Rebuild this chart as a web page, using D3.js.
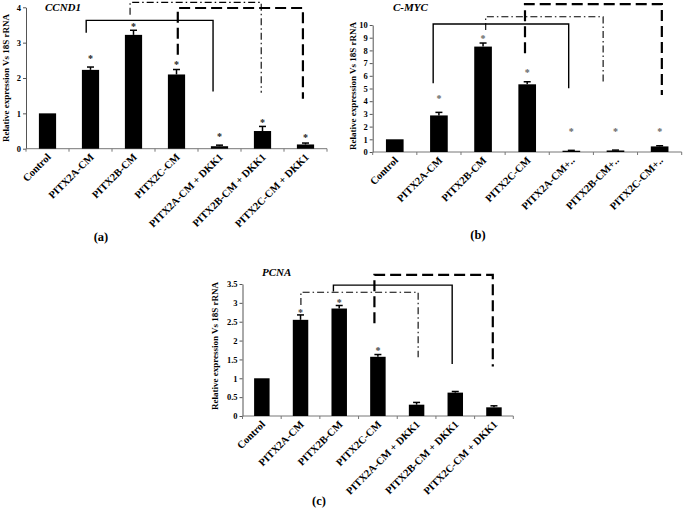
<!DOCTYPE html>
<html><head><meta charset="utf-8">
<script src="https://cdn.jsdelivr.net/npm/d3@7/dist/d3.min.js"></script>
<style>
body{margin:0;background:#fff;}
svg{display:block;font-family:"Liberation Serif","Times New Roman",serif;}
</style></head>
<body><svg id="chart" width="683" height="508"></svg>
<script>
// ---------- DATA ----------
const categories = ["Control","PITX2A-CM","PITX2B-CM","PITX2C-CM","PITX2A-CM + DKK1","PITX2B-CM + DKK1","PITX2C-CM + DKK1"];
const categoriesMyc = ["Control","PITX2A-CM","PITX2B-CM","PITX2C-CM","PITX2A-CM+..","PITX2B-CM+..","PITX2C-CM+.."];

const ccnd1Values = [1.0, 2.23, 3.22, 2.1, 0.07, 0.5, 0.12];
const ccnd1Errors = [0, 0.08, 0.13, 0.14, 0.03, 0.13, 0.04];
const ccnd1Stars  = [null, 2.59, 3.51, 2.43, 0.39, 0.79, 0.37];
const ccnd1Ticks  = [0, 1, 2, 3, 4];

const mycValues = [1.0, 2.88, 8.3, 5.33, 0.1, 0.12, 0.44];
const mycErrors = [0, 0.24, 0.28, 0.2, 0.03, 0.03, 0.05];
const mycStars  = [null, 4.33, 9.08, 6.38, 1.73, 1.73, 1.73];
const mycTicks  = [0,1,2,3,4,5,6,7,8,9,10];

const pcnaValues = [1.0, 2.55, 2.85, 1.57, 0.3, 0.62, 0.23];
const pcnaErrors = [0, 0.13, 0.08, 0.06, 0.06, 0.03, 0.04];
const pcnaStars  = [null, 2.79, 3.05, 1.78, null, null, null];
const pcnaTicks  = [0, 0.5, 1, 1.5, 2, 2.5, 3, 3.5];
const pcnaTickLabels = ["0","0.5","1","1.5","2","2.5","3","3.5"];

// brackets: [fromCategoryPos, toCategoryPos, topValue, leftEndValue, rightEndValue, kind]
const ccnd1Brackets = [
  [0.9, 3.85, 3.63, 3.28, 1.62, "solid"],
  [1.92, 4.97, 4.14, 3.79, 1.58, "dashdot"],
  [3.03, 5.94, 3.98, 2.66, 1.41, "dashed"]
];
const mycBrackets = [
  [0.87, 3.94, 10.08, 5.41, 5.02, "solid"],
  [2.06, 4.72, 10.65, 9.6, 5.54, "dashdot"],
  [2.95, 6.05, 11.65, 7.77, 4.49, "dashed"]
];
const pcnaBrackets = [
  [1.01, 4.04, 3.28, 2.94, 1.56, "dashdot"],
  [1.85, 4.92, 3.47, 3.30, 1.38, "solid"],
  [2.91, 5.97, 3.74, 2.46, 1.31, "dashed"]
];

// ---------- STYLES ----------
const lineStyles = {
  solid:   {w: 1.4, dash: null},
  dashdot: {w: 1.1, dash: "7,3,1.5,3"},
  dashed:  {w: 2.2, dash: "11,5"}
};

const svg = d3.select("#chart");

function drawPanel(cfg) {
  const g = svg.append("g");
  const x = d3.scaleBand().domain(d3.range(cfg.cats.length)).range([cfg.x0, cfg.x1]).paddingInner(0).paddingOuter(0);
  const y = d3.scaleLinear().domain([0, cfg.yMax]).range([cfg.y0, cfg.yTop]);
  const bw = x.bandwidth();
  const cx = i => cfg.x0 + bw * (i + 0.5);

  // y axis
  const yAxis = d3.axisLeft(y).tickValues(cfg.ticks).tickSize(3).tickSizeOuter(0)
    .tickFormat((d, i) => cfg.tickLabels ? cfg.tickLabels[i] : d3.format("")(d));
  const ya = g.append("g").attr("transform", `translate(${cfg.x0},0)`).call(yAxis);
  ya.select(".domain").attr("stroke", "#555").attr("stroke-width", 1);
  ya.selectAll(".tick line").attr("stroke", "#555");
  ya.selectAll(".tick text").attr("font-family", "Liberation Serif").attr("font-weight", "bold")
    .attr("font-size", 8.5).attr("fill", "#000").attr("x", -5);

  // x axis with boundary ticks
  const xAxis = d3.axisBottom(x).tickSize(0).tickFormat("");
  const xa = g.append("g").attr("transform", `translate(0,${cfg.y0})`).call(xAxis);
  xa.select(".domain").attr("stroke", "#777").attr("stroke-width", 1).attr("d", `M${cfg.x0},0H${cfg.x1}`);
  xa.selectAll(".tick").remove();
  const bounds = d3.range(cfg.cats.length + 1).map(i => cfg.x0 + bw * i);
  xa.selectAll("line.bt").data(bounds).join("line").attr("class", "bt")
    .attr("x1", d => d).attr("x2", d => d).attr("y1", 0).attr("y2", 3)
    .attr("stroke", "#777").attr("stroke-width", 1);

  // x labels
  g.selectAll("text.xl").data(cfg.cats).join("text").attr("class", "xl")
    .attr("transform", (d, i) => `translate(${cx(i) + 4},${cfg.y0 + 9}) rotate(-45)`)
    .attr("text-anchor", "end").attr("font-weight", "bold").attr("font-size", cfg.xFont)
    .text(d => d);

  // bars
  const barW = bw * 0.4;
  g.selectAll("rect.bar").data(cfg.values).join("rect").attr("class", "bar")
    .attr("x", (d, i) => cx(i) - barW / 2).attr("width", barW)
    .attr("y", d => y(d)).attr("height", d => cfg.y0 - y(d)).attr("fill", "#000");

  // error bars
  const eb = g.selectAll("g.eb").data(cfg.values.map((v, i) => ({v, e: cfg.errors[i], i})).filter(d => d.e > 0))
    .join("g").attr("class", "eb");
  eb.append("line").attr("x1", d => cx(d.i)).attr("x2", d => cx(d.i))
    .attr("y1", d => y(d.v)).attr("y2", d => y(d.v + d.e)).attr("stroke", "#000").attr("stroke-width", 1.5);
  eb.append("line").attr("x1", d => cx(d.i) - 3.5).attr("x2", d => cx(d.i) + 3.5)
    .attr("y1", d => y(d.v + d.e)).attr("y2", d => y(d.v + d.e)).attr("stroke", "#000").attr("stroke-width", 1.5);

  // stars
  g.selectAll("text.star").data(cfg.stars.map((s, i) => ({s, i})).filter(d => d.s !== null))
    .join("text").attr("class", "star")
    .attr("x", d => cx(d.i)).attr("y", d => y(d.s) + 5).attr("text-anchor", "middle")
    .attr("font-size", 10).attr("font-weight", "bold").attr("fill", cfg.starColor).text("*");

  // brackets
  const posX = p => cfg.x0 + bw * (p + 0.5);
  g.selectAll("path.br").data(cfg.brackets).join("path").attr("class", "br")
    .attr("d", b => `M${posX(b[0])},${y(b[3])}V${y(b[2])}H${posX(b[1])}V${y(b[4])}`)
    .attr("fill", "none").attr("stroke", "#000")
    .attr("stroke-width", b => lineStyles[b[5]].w)
    .attr("stroke-dasharray", b => lineStyles[b[5]].dash);

  // y label
  g.append("text").attr("transform", `translate(${cfg.yLabelX},${cfg.yLabelY}) rotate(-90)`)
    .attr("text-anchor", "middle").attr("font-weight", "bold").attr("font-size", 9)
    .text("Relative expression Vs 18S rRNA");

  // title
  g.append("text").attr("x", cfg.titleX).attr("y", cfg.titleY)
    .attr("font-weight", "bold").attr("font-style", "italic").attr("font-size", 11).text(cfg.title);

  // panel letter
  g.append("text").attr("x", cfg.letterX).attr("y", cfg.letterY).attr("text-anchor", "middle")
    .attr("font-weight", "bold").attr("font-size", 12.5).text(cfg.letter);
}

drawPanel({cats: categories, values: ccnd1Values, errors: ccnd1Errors, stars: ccnd1Stars, ticks: ccnd1Ticks,
  brackets: ccnd1Brackets, yMax: 4, x0: 26, x1: 327, y0: 148.7, yTop: 7.3, xFont: 10.5, starColor: "#222",
  yLabelX: 9, yLabelY: 78, title: "CCND1", titleX: 45, titleY: 11, letter: "(a)", letterX: 101, letterY: 241});

drawPanel({cats: categoriesMyc, values: mycValues, errors: mycErrors, stars: mycStars, ticks: mycTicks,
  brackets: mycBrackets, yMax: 10, x0: 372.7, x1: 681.7, y0: 152, yTop: 25, xFont: 10.5, starColor: "#666",
  yLabelX: 356, yLabelY: 86, title: "C-MYC", titleX: 393, titleY: 11, letter: "(b)", letterX: 478, letterY: 239});

drawPanel({cats: categories, values: pcnaValues, errors: pcnaErrors, stars: pcnaStars, ticks: pcnaTicks, tickLabels: pcnaTickLabels,
  brackets: pcnaBrackets, yMax: 3.5, x0: 242.5, x1: 513.3, y0: 416, yTop: 284, xFont: 10.5, starColor: "#444",
  yLabelX: 218, yLabelY: 346, title: "PCNA", titleX: 262, titleY: 276, letter: "(c)", letterX: 319, letterY: 505});
</script></body></html>
